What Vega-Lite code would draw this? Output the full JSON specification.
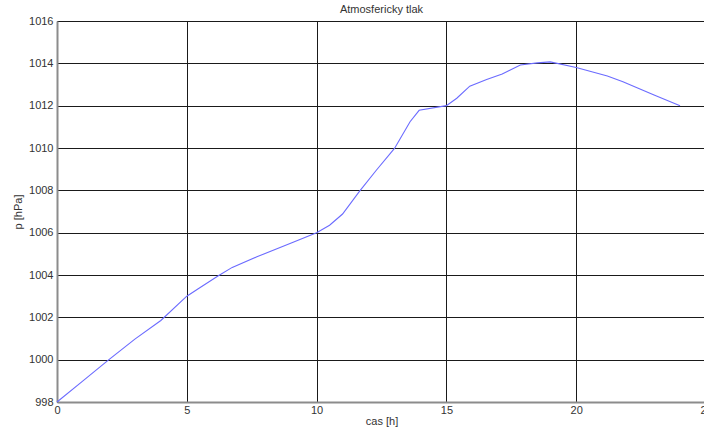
{
  "$schema": "https://vega.github.io/schema/vega-lite/v6.json",
  "autosize": {"type": "none"},
  "width": 649,
  "height": 381,
  "padding": {"left": 57, "top": 21, "right": 0, "bottom": 25},
  "background": "white",
  "config": {
    "font": "Liberation Sans",
    "view": {"stroke": null},
    "axis": {
      "labelFont": "Liberation Sans",
      "titleFont": "Liberation Sans",
      "labelFontSize": 11,
      "titleFontSize": 11,
      "labelColor": "#333333",
      "titleColor": "#333333",
      "titleFontWeight": "normal",
      "gridColor": "#1a1a1a",
      "gridOpacity": 1,
      "gridWidth": 1,
      "domainColor": "#8c8c8c",
      "domainWidth": 2,
      "ticks": false
    }
  },
  "title": {
    "text": "Atmosfericky tlak",
    "font": "Liberation Sans",
    "fontSize": 11,
    "fontWeight": "normal",
    "color": "#333333",
    "anchor": "middle",
    "offset": 0
  },
  "data": {
    "values": [
      {"t": 0, "p": 998.0},
      {"t": 1, "p": 999.0},
      {"t": 2, "p": 1000.0},
      {"t": 3, "p": 1000.97},
      {"t": 4, "p": 1001.85},
      {"t": 5, "p": 1003.0},
      {"t": 5.5, "p": 1003.4},
      {"t": 6.2, "p": 1003.95},
      {"t": 6.75, "p": 1004.36},
      {"t": 7.7, "p": 1004.86},
      {"t": 9, "p": 1005.5},
      {"t": 10, "p": 1006.0},
      {"t": 10.5, "p": 1006.35},
      {"t": 11, "p": 1006.88},
      {"t": 11.65, "p": 1007.95},
      {"t": 12.3, "p": 1008.95},
      {"t": 13, "p": 1009.98},
      {"t": 13.6, "p": 1011.24},
      {"t": 13.95, "p": 1011.78},
      {"t": 15, "p": 1012.0},
      {"t": 15.4, "p": 1012.35},
      {"t": 15.9, "p": 1012.92},
      {"t": 16.55, "p": 1013.24},
      {"t": 17.15, "p": 1013.5},
      {"t": 17.85, "p": 1013.92},
      {"t": 18.5, "p": 1014.02},
      {"t": 19, "p": 1014.07},
      {"t": 20, "p": 1013.8},
      {"t": 21.2, "p": 1013.4},
      {"t": 21.8, "p": 1013.13},
      {"t": 23, "p": 1012.5},
      {"t": 24, "p": 1012.0}
    ]
  },
  "mark": {"type": "line", "color": "#6b6bff", "strokeWidth": 1.1},
  "encoding": {
    "x": {
      "field": "t",
      "type": "quantitative",
      "scale": {"domain": [0, 25], "nice": false, "zero": false},
      "axis": {"values": [0, 5, 10, 15, 20, 25], "title": "cas [h]", "labelPadding": 2, "titlePadding": 0, "labelFlush": false}
    },
    "y": {
      "field": "p",
      "type": "quantitative",
      "scale": {"domain": [998, 1016], "nice": false, "zero": false},
      "axis": {"values": [998, 1000, 1002, 1004, 1006, 1008, 1010, 1012, 1014, 1016], "format": "d", "title": "p [hPa]", "labelPadding": 4, "titlePadding": 5, "labelFlush": false}
    }
  }
}
